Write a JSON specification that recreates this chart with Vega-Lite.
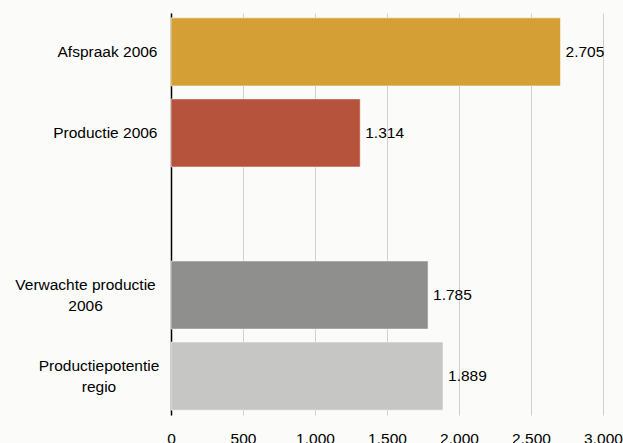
{
  "$schema": "https://vega.github.io/schema/vega-lite/v6.json",
  "width": 432,
  "height": 402,
  "autosize": {"type": "none"},
  "padding": {"left": 171, "top": 13, "right": 20, "bottom": 28},
  "background": "#fbfcfa",
  "config": {
    "view": {"stroke": null},
    "locale": {"number": {"decimal": ",", "thousands": ".", "grouping": [3], "currency": ["€", ""]}},
    "font": "Liberation Sans"
  },
  "data": {
    "values": [
      {"categorie": "Afspraak 2006", "waarde": 2705},
      {"categorie": "Productie 2006", "waarde": 1314},
      {"categorie": "Verwachte productie 2006", "waarde": 1785},
      {"categorie": "Productiepotentie regio", "waarde": 1889}
    ]
  },
  "encoding": {
    "y": {
      "field": "categorie",
      "type": "nominal",
      "scale": {
        "domain": ["Afspraak 2006", "Productie 2006", "", "Verwachte productie 2006", "Productiepotentie regio"],
        "paddingInner": 0.16,
        "paddingOuter": 0.06
      },
      "axis": {
        "title": null,
        "domain": true,
        "domainColor": "#000000",
        "domainWidth": 1.5,
        "ticks": false,
        "labelPadding": {"condition": [{"test": "datum.value == 'Verwachte productie 2006'", "value": 86}, {"test": "datum.value == 'Productiepotentie regio'", "value": 72.5}], "value": 14},
        "labelAlign": {"condition": {"test": "indexof(datum.value, 'Verwachte') == 0 || indexof(datum.value, 'Productiepotentie') == 0", "value": "center"}, "value": "right"},
        "labelFontSize": 15.5,
        "labelColor": "#000000",
        "labelFont": "Liberation Sans",
        "labelLineHeight": 21,
        "labelOffset": {"condition": {"test": "indexof(datum.value, 'Verwachte') == 0 || indexof(datum.value, 'Productiepotentie') == 0", "value": -10.5}, "value": 0},
        "labelExpr": "datum.value == 'Verwachte productie 2006' ? ['Verwachte productie', '2006'] : datum.value == 'Productiepotentie regio' ? ['Productiepotentie', 'regio'] : datum.value"
      }
    }
  },
  "layer": [
    {
      "mark": {"type": "bar", "stroke": "#ffffff", "strokeOpacity": 0.5, "strokeWidth": 1},
      "encoding": {
        "x": {
          "field": "waarde",
          "type": "quantitative",
          "scale": {"domain": [0, 3000], "nice": false},
          "axis": {
            "title": null,
            "values": [0, 500, 1000, 1500, 2000, 2500, 3000],
            "format": ",d",
            "grid": true,
            "gridColor": "#d0d0d0",
            "gridWidth": 1,
            "domain": false,
            "ticks": false,
            "labelPadding": 16,
            "labelFontSize": 15.5,
            "labelColor": "#000000",
            "labelFont": "Liberation Sans",
            "labelFlush": false
          }
        },
        "color": {
          "field": "categorie",
          "type": "nominal",
          "scale": {
            "domain": ["Afspraak 2006", "Productie 2006", "Verwachte productie 2006", "Productiepotentie regio"],
            "range": ["#d4a036", "#b5533c", "#8f908d", "#c6c7c5"]
          },
          "legend": null
        }
      }
    },
    {
      "mark": {"type": "text", "align": "left", "baseline": "middle", "dx": 5, "fontSize": 15.5, "color": "#000000", "font": "Liberation Sans"},
      "encoding": {
        "x": {"field": "waarde", "type": "quantitative"},
        "text": {"field": "waarde", "type": "quantitative", "format": ",d"}
      }
    }
  ]
}
